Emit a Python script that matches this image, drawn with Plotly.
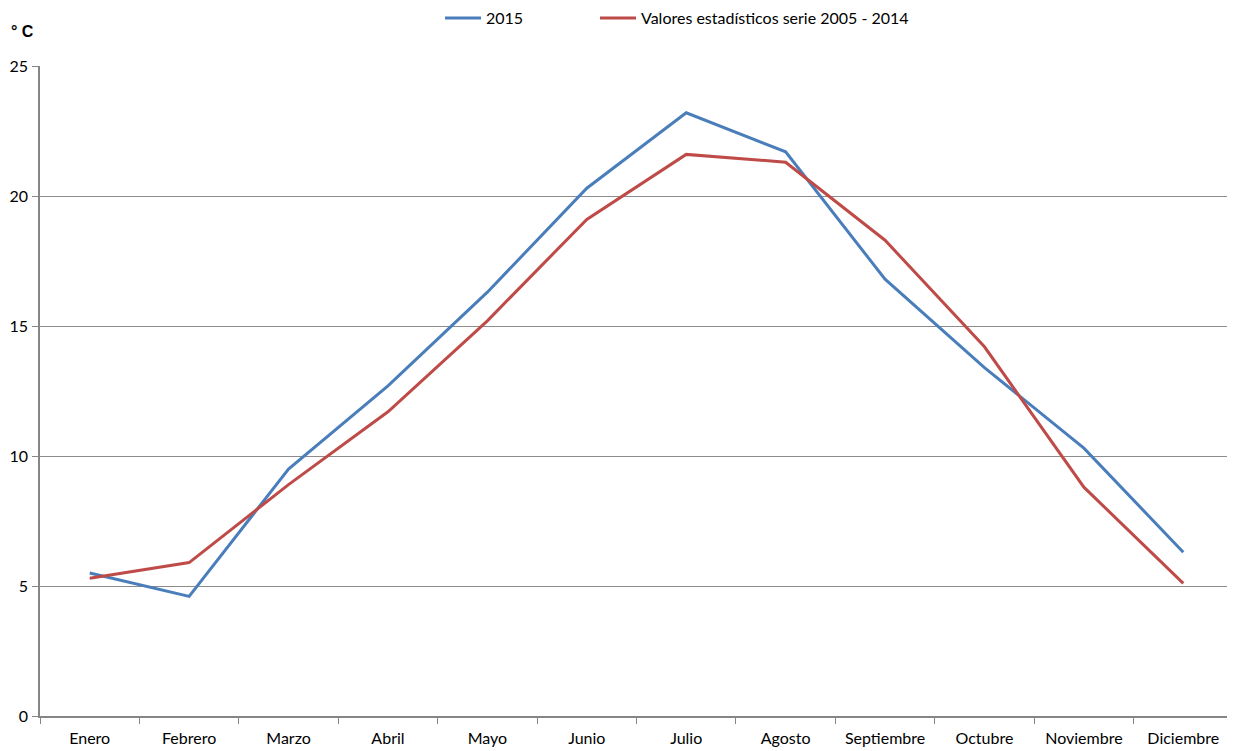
import plotly.graph_objects as go

months = ["Enero", "Febrero", "Marzo", "Abril", "Mayo", "Junio", "Julio",
          "Agosto", "Septiembre", "Octubre", "Noviembre", "Diciembre"]
t2015 = [5.5, 4.6, 9.5, 12.7, 16.3, 20.3, 23.2, 21.7, 16.8, 13.4, 10.3, 6.3]
t_serie = [5.3, 5.9, 8.9, 11.7, 15.2, 19.1, 21.6, 21.3, 18.3, 14.2, 8.8, 5.1]
y_ticks = [0, 5, 10, 15, 20, 25]

W, H = 1235, 751
FONT = "Lato, Liberation Sans, Arial"

fig = go.Figure()
fig.add_trace(go.Scatter(x=months, y=t2015, mode="lines", name="2015",
                         line=dict(color="#4A7EBB", width=3), legend="legend"))
fig.add_trace(go.Scatter(x=months, y=t_serie, mode="lines",
                         name="Valores estadísticos serie 2005 - 2014",
                         line=dict(color="#BE4B48", width=3), legend="legend2"))

axis_col = "#868686"
leg_common = dict(orientation="h", xref="container", yref="container",
                  yanchor="middle", xanchor="left", itemwidth=36,
                  font=dict(size=16), bgcolor="rgba(0,0,0,0)")
fig.update_layout(
    width=W, height=H,
    margin=dict(l=32, r=10, t=58, b=43, autoexpand=False),
    paper_bgcolor="white", plot_bgcolor="white",
    font=dict(family=FONT, size=16, color="black"),
    showlegend=True,
    legend=dict(x=432 / W, y=1 - 10 / H, **leg_common),
    legend2=dict(x=587 / W, y=1 - 10 / H, **leg_common),
    xaxis=dict(type="category", showgrid=False, showline=True, linecolor=axis_col,
               linewidth=1.5, ticks="outside", tickson="boundaries", ticklen=6,
               tickcolor=axis_col, tickwidth=1, range=[-0.5, 11.5],
               tickfont=dict(size=16), automargin=False, ticklabelstandoff=7),
    yaxis=dict(range=[0, 25], tickvals=y_ticks, showgrid=True, gridcolor="#8C8C8C",
               gridwidth=1, showline=True, linecolor=axis_col, linewidth=1.5,
               ticks="outside", ticklen=6, tickcolor=axis_col, zeroline=False,
               tickfont=dict(size=16), automargin=False, ticklabelstandoff=1),
)
fig.add_annotation(text="<b>° C</b>", xref="paper", yref="paper",
                   x=-31 / 1193, y=(708 - 24) / 650, xanchor="left", yanchor="middle",
                   showarrow=False, font=dict(family="Liberation Sans, Arial", size=16))

fig.write_html("out.html")
